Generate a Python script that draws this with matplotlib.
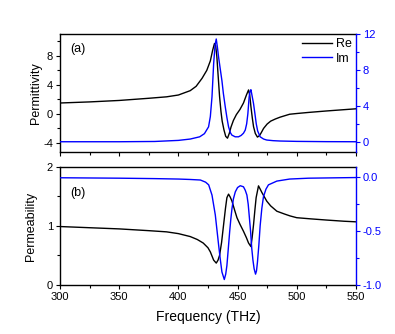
import matplotlib
matplotlib.use("Agg")
import matplotlib.pyplot as plt
from matplotlib.ticker import MultipleLocator

plt.rcParams['font.family'] = ['Liberation Sans', 'DejaVu Sans']
plt.rcParams['axes.unicode_minus'] = False

# ---- Permittivity, real part (left axis, panel a)
f_eps_re = [300, 325, 350, 375, 390, 400, 410, 415, 420, 424, 427, 429, 430.5, 431.5,
            432.5, 433.5, 434.8, 436, 437, 438.5, 440, 441.5, 443, 444.5, 446.5, 449,
            452, 455, 457.5, 459.3, 460.3, 461.3, 462.5, 463.5, 465, 466.8, 468.5, 470,
            472, 475, 478, 482, 486, 494, 500, 510, 525, 550]
eps_re = [1.50, 1.65, 1.85, 2.15, 2.35, 2.6, 3.2, 3.8, 4.9, 6.0, 7.3, 8.8, 9.7, 9.4,
          7.9, 5.5, 2.4, 0.3, -1.0, -2.2, -3.1, -3.35, -2.7, -1.8, -0.9, -0.1,
          0.6, 1.5, 2.6, 3.3, 2.6, 1.0, -0.6, -1.75, -2.7, -3.2, -3.0, -2.6,
          -2.0, -1.4, -1.0, -0.7, -0.45, -0.05, 0.05, 0.2, 0.4, 0.7]

# ---- Permittivity, imaginary part (right axis, panel a)
f_eps_im = [300, 350, 380, 400, 410, 418, 422, 425.5, 427, 428.4, 429.8, 431, 432, 433,
            434, 435.5, 436.8, 438, 439.6, 441, 442.4, 444, 445.2, 448, 450.8, 453, 455,
            456.5, 457.7, 458.7, 459.8, 460.5, 461.3, 462.3, 463.5, 464.7, 465.8, 467,
            469.1, 472, 474.7, 480, 486, 500, 525, 550]
eps_im = [0.0, 0.0, 0.03, 0.15, 0.3, 0.55, 0.9, 1.66, 2.8, 5.0, 8.7, 10.8, 11.45, 10.5,
          9.4, 8.0, 6.8, 5.4, 3.9, 2.7, 1.66, 1.0, 0.74, 0.55, 0.55, 0.7, 0.95,
          1.3, 2.0, 3.1, 5.0, 5.6, 5.8, 5.1, 4.25, 3.1, 2.0, 1.2,
          0.55, 0.3, 0.19, 0.12, 0.08, 0.04, 0.01, 0.0]

# ---- Permeability, real part (left axis, panel b)
f_mu_re = [300, 325, 350, 375, 390, 400, 410, 416, 421, 425, 427, 429.8, 432, 433.5,
           434.8, 436.5, 438.2, 439.8, 441, 442.4, 443.8, 445.3, 447.5, 449.5, 452, 455,
           457.5, 459.3, 461.3, 462.3, 463.5, 464.7, 465.7, 467.7, 469, 470.5, 474.7,
           478, 483.2, 490, 494.4, 500, 512, 525.3, 540, 550]
mu_re = [0.99, 0.97, 0.95, 0.92, 0.90, 0.87, 0.82, 0.77, 0.71, 0.63, 0.56, 0.42, 0.37, 0.42,
         0.5, 0.72, 1.02, 1.3, 1.48, 1.54, 1.49, 1.42, 1.27, 1.14, 1.03, 0.91,
         0.8, 0.71, 0.65, 0.8, 1.02, 1.28, 1.48, 1.68, 1.63, 1.57, 1.42,
         1.34, 1.25, 1.2, 1.17, 1.14, 1.12, 1.10, 1.08, 1.07]

# ---- Permeability, imaginary part (right axis, panel b)
f_mu_im = [300, 350, 380, 400, 410, 418.6, 423, 425.6, 428.4, 431.2, 432.5, 434, 435.5,
           436.8, 438.8, 440, 441, 442.2, 443.3, 444.3, 445.3, 446.5, 448.1, 450, 452.3,
           455, 456.5, 457.9, 459, 459.8, 461, 462, 463, 464, 465.2, 466, 466.8, 468,
           469.1, 470.5, 471.9, 474, 476.1, 483.2, 494, 510, 550]
mu_im = [-0.004, -0.008, -0.012, -0.016, -0.02, -0.025, -0.045, -0.07, -0.165, -0.35, -0.48,
         -0.63, -0.77, -0.88, -0.95, -0.9, -0.82, -0.66, -0.51, -0.39, -0.29, -0.2, -0.135,
         -0.095, -0.078, -0.088, -0.12, -0.165, -0.25, -0.35, -0.5, -0.66, -0.77, -0.85,
         -0.9, -0.87, -0.79, -0.63, -0.45, -0.29, -0.18, -0.11, -0.07, -0.035, -0.016,
         -0.008, -0.002]

x_ticks = [300, 350, 400, 450, 500, 550]

fig = plt.figure(figsize=(3.95, 3.34), dpi=100)
axa = fig.add_axes([0.152, 0.545, 0.749, 0.353])
axb = fig.add_axes([0.152, 0.147, 0.749, 0.353])
axa2 = axa.twinx()
axb2 = axb.twinx()

lw = 1.0
l1, = axa.plot(f_eps_re, eps_re, color='black', lw=lw, label='Re')
l2, = axa2.plot(f_eps_im, eps_im, color='blue', lw=lw, label='Im')
axb.plot(f_mu_re, mu_re, color='black', lw=lw)
axb2.plot(f_mu_im, mu_im, color='blue', lw=lw)

tick_fs = 8
for ax in (axa, axb):
    ax.set_xlim(300, 550)
    ax.set_xticks(x_ticks)
    ax.xaxis.set_minor_locator(MultipleLocator(25))
    ax.tick_params(axis='both', which='major', direction='out', length=3, width=0.8,
                   labelsize=tick_fs, pad=2, top=False, right=False)
    ax.tick_params(axis='both', which='minor', direction='out', length=2, width=0.8,
                   top=False, right=False)
axa.tick_params(axis='x', labelbottom=False)

axa.set_ylim(-5.25, 11.0)
axa.set_yticks([-4, 0, 4, 8])
axa.yaxis.set_minor_locator(MultipleLocator(2))
axa2.set_ylim(-1.14, 12)
axa2.set_yticks([0, 4, 8, 12])
axa2.yaxis.set_minor_locator(MultipleLocator(2))

axb.set_ylim(0, 2)
axb.set_yticks([0, 1, 2])
axb.yaxis.set_minor_locator(MultipleLocator(0.5))
axb2.set_ylim(-1.0, 0.096)
axb2.set_yticks([0.0, -0.5, -1.0])
axb2.set_yticklabels(['0.0', '-0.5', '-1.0'])
axb2.yaxis.set_minor_locator(MultipleLocator(0.25))

for ax2 in (axa2, axb2):
    ax2.tick_params(axis='y', which='major', direction='out', length=3, width=0.8,
                    labelsize=tick_fs, colors='blue', pad=2)
    ax2.tick_params(axis='y', which='minor', direction='out', length=2, width=0.8,
                    colors='blue')
    ax2.spines['right'].set_color('blue')
    ax2.spines['left'].set_visible(False)
    for s in ('top', 'bottom'):
        ax2.spines[s].set_visible(False)

for ax in (axa, axb):
    ax.spines['right'].set_visible(False)
    for s in ax.spines.values():
        s.set_linewidth(1.0)
for ax2 in (axa2, axb2):
    ax2.spines['right'].set_linewidth(1.0)

axa.set_ylabel('Permittivity', fontsize=9, labelpad=1)
axb.set_ylabel('Permeability', fontsize=9, labelpad=7)
axb.set_xlabel('Frequency (THz)', fontsize=10, labelpad=6)

axa.text(0.034, 0.87, '(a)', transform=axa.transAxes, fontsize=9, va='center', ha='left')
axb.text(0.034, 0.78, '(b)', transform=axb.transAxes, fontsize=9, va='center', ha='left')

axa2.legend(handles=[l1, l2], loc='upper right', bbox_to_anchor=(0.985, 0.965),
            frameon=False, fontsize=9, handlelength=2.4, handletextpad=0.3,
            labelspacing=0.2, borderpad=0, borderaxespad=0)

fig.savefig('out.png', dpi=100)
